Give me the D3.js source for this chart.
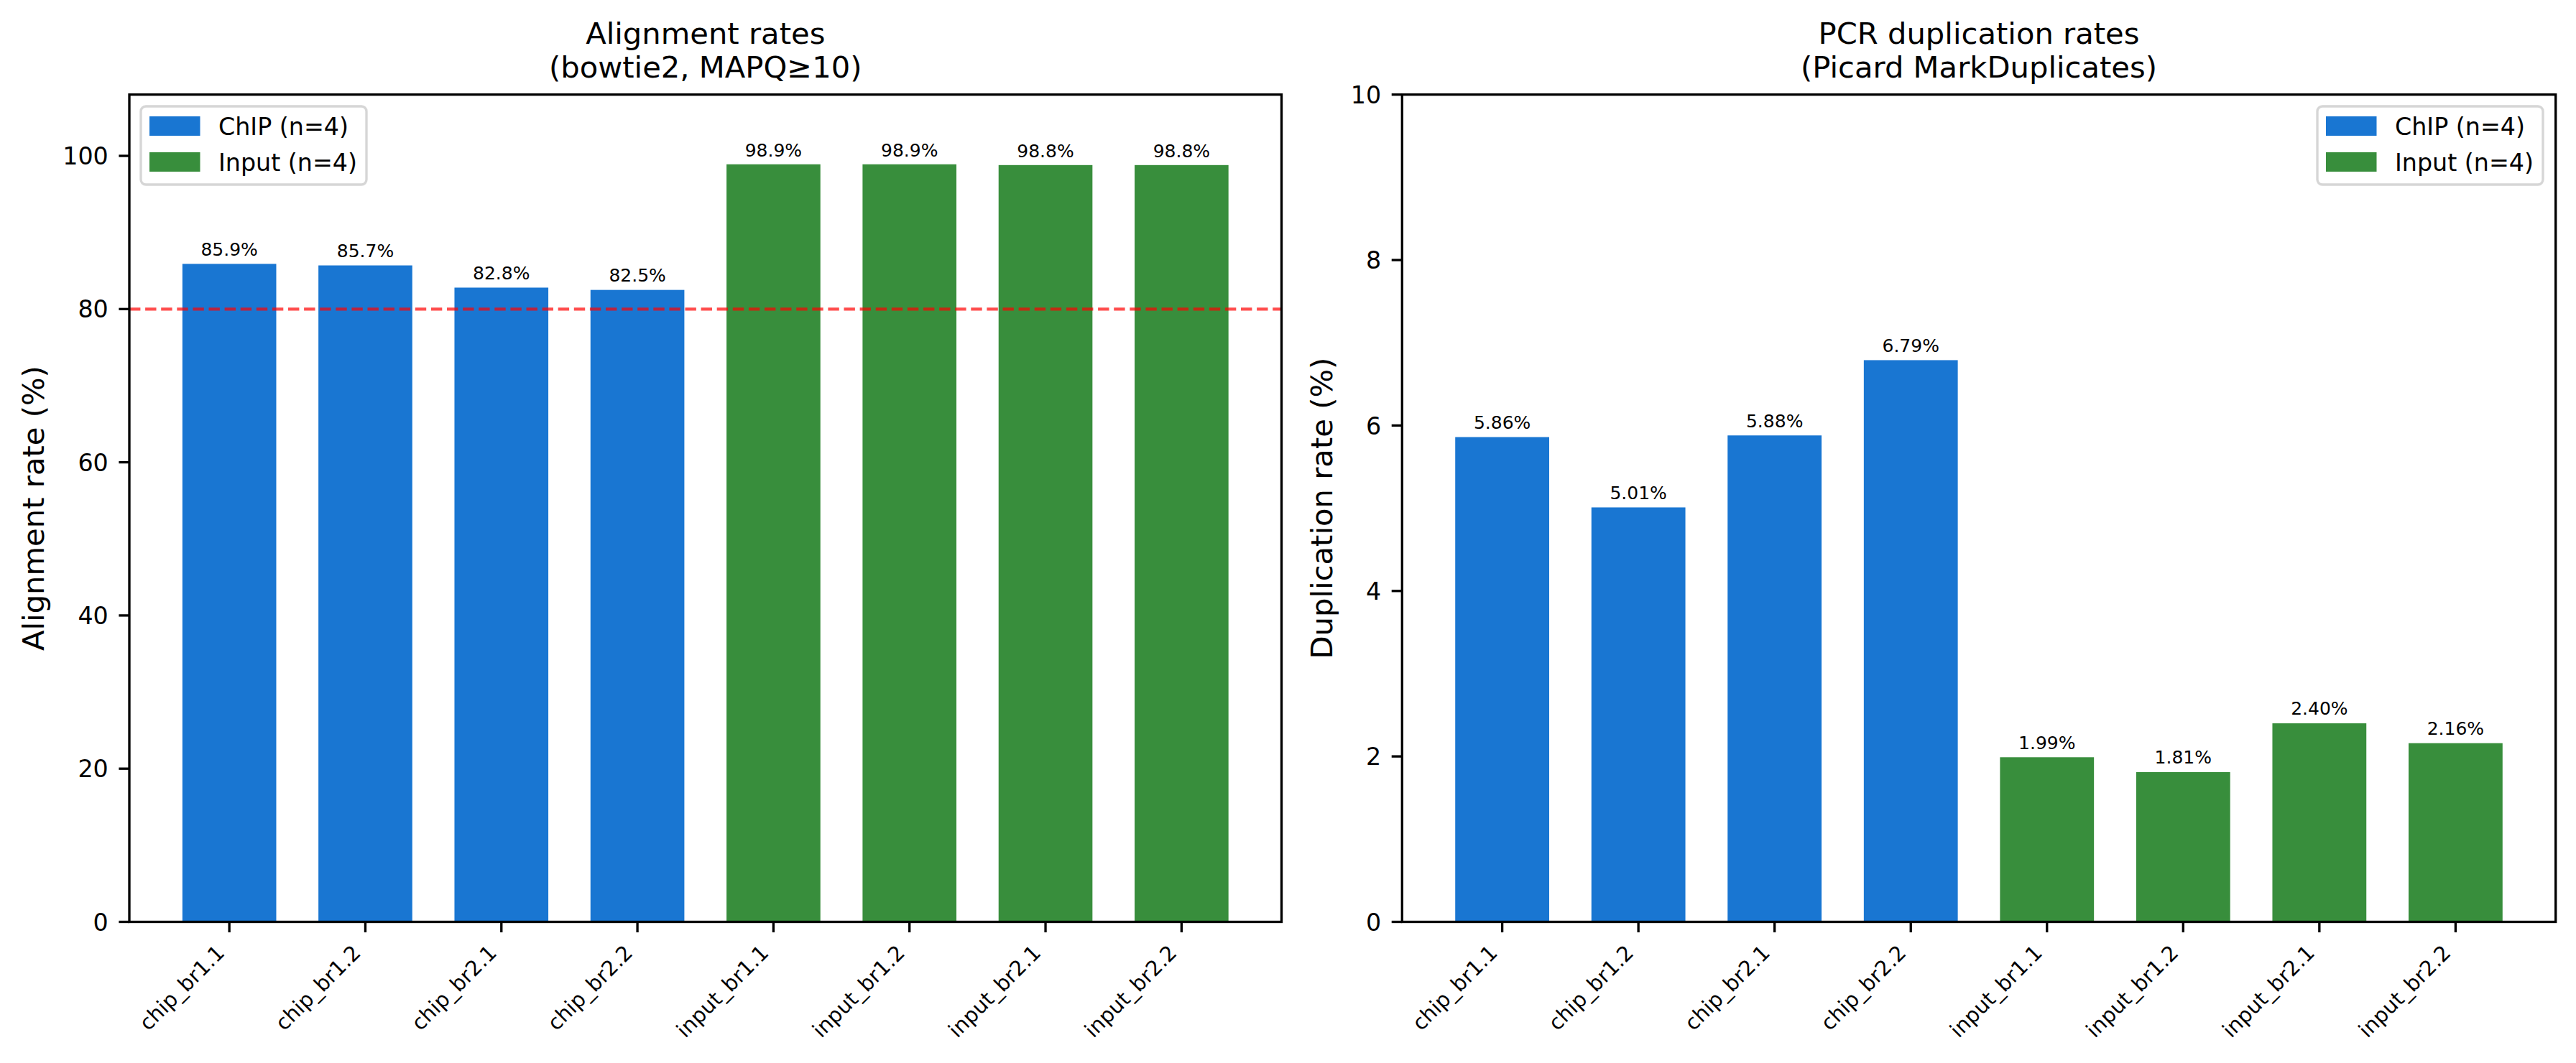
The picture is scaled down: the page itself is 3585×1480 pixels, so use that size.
<!DOCTYPE html>
<meta charset="utf-8">
<head>
    <title>Alignment and duplication rates</title>
    <script type="text/javascript" src="https://cdn.jsdelivr.net/npm/d3@7/dist/d3.min.js"></script>
    <style>
        body { margin: 0; background: #fff; }
        svg { display: block; font-family: "DejaVu Sans", sans-serif; }
    </style>
</head>

<body>
    <div id="chart"></div>

    <script type="text/javascript">

        // data
        var samples = ["chip_br1.1", "chip_br1.2", "chip_br2.1", "chip_br2.2",
                       "input_br1.1", "input_br1.2", "input_br2.1", "input_br2.2"];
        var sampleType = ["ChIP", "ChIP", "ChIP", "ChIP", "Input", "Input", "Input", "Input"];
        var alignRate = [85.9, 85.7, 82.8, 82.5, 98.9, 98.9, 98.8, 98.8];
        var dupRate = [5.86, 5.01, 5.88, 6.79, 1.99, 1.81, 2.40, 2.16];
        var legendLabels = ["ChIP (n=4)", "Input (n=4)"];
        var alignTicks = [0, 20, 40, 60, 80, 100];
        var dupTicks = [0, 2, 4, 6, 8, 10];
        var alignThreshold = 80;

        var w = 3585;
        var h = 1480;

        var colors = {"ChIP": "#1976D2", "Input": "#388E3C"};

        var svg = d3.select("#chart")
                    .append("svg")
                    .attr("width", w)
                    .attr("height", h);

        svg.append("rect").attr("width", w).attr("height", h).attr("fill", "#fff");

        // note: "top" is taken by window.top, so use other names
        var plotTop = 131.7, plotBottom = 1283.5;
        var lw = 3.33, tickLen = 14.6;

        function panel(opts) {
            var g = svg.append("g");

            var x = d3.scaleLinear()
                      .domain([-0.735, samples.length - 1 + 0.735])
                      .range([opts.left, opts.right]);
            var y = d3.scaleLinear()
                      .domain(opts.ydomain)
                      .range([plotBottom, plotTop]);

            var barW = x(0.69) - x(0);

            // bars
            g.selectAll("rect.bar")
             .data(opts.values)
             .enter()
             .append("rect")
             .attr("class", "bar")
             .attr("x", function(d, i) { return x(i) - barW / 2; })
             .attr("y", function(d) { return y(d); })
             .attr("width", barW)
             .attr("height", function(d) { return y(0) - y(d); })
             .attr("fill", function(d, i) { return colors[sampleType[i]]; });

            // value labels
            g.selectAll("text.val")
             .data(opts.values)
             .enter()
             .append("text")
             .attr("class", "val")
             .attr("x", function(d, i) { return x(i); })
             .attr("y", function(d) { return y(d + opts.labelOffset) - 5.9; })
             .attr("text-anchor", "middle")
             .attr("font-size", 25)
             .text(function(d) { return d.toFixed(opts.decimals) + "%"; });

            // threshold line
            if (opts.threshold !== undefined) {
                g.append("line")
                 .attr("x1", opts.left).attr("x2", opts.right)
                 .attr("y1", y(opts.threshold)).attr("y2", y(opts.threshold))
                 .attr("stroke", "red")
                 .attr("stroke-opacity", 0.7)
                 .attr("stroke-width", 4.17)
                 .attr("stroke-dasharray", "15.4 6.7");
            }

            // y axis ticks
            g.selectAll("line.ytick")
             .data(opts.yticks)
             .enter()
             .append("line")
             .attr("class", "ytick")
             .attr("x1", opts.left - tickLen).attr("x2", opts.left)
             .attr("y1", function(d) { return y(d); })
             .attr("y2", function(d) { return y(d); })
             .attr("stroke", "#000").attr("stroke-width", lw);

            g.selectAll("text.ytick")
             .data(opts.yticks)
             .enter()
             .append("text")
             .attr("class", "ytick")
             .attr("x", opts.left - tickLen - 14.6)
             .attr("y", function(d) { return y(d) + 12.1; })
             .attr("text-anchor", "end")
             .attr("font-size", 33.3)
             .text(function(d) { return d; });

            // x axis ticks
            g.selectAll("line.xtick")
             .data(samples)
             .enter()
             .append("line")
             .attr("class", "xtick")
             .attr("x1", function(d, i) { return x(i); })
             .attr("x2", function(d, i) { return x(i); })
             .attr("y1", plotBottom).attr("y2", plotBottom + tickLen)
             .attr("stroke", "#000").attr("stroke-width", lw);

            g.selectAll("text.xtick")
             .data(samples)
             .enter()
             .append("text")
             .attr("class", "xtick")
             .attr("text-anchor", "end")
             .attr("font-size", 29.2)
             .attr("transform", function(d, i) {
                 return "translate(" + (x(i) - 4.9) + "," + (plotBottom + tickLen + 14.6 + 15.7) + ") rotate(-45)";
             })
             .text(function(d) { return d; });

            // spines
            g.append("rect")
             .attr("x", opts.left).attr("y", plotTop)
             .attr("width", opts.right - opts.left)
             .attr("height", plotBottom - plotTop)
             .attr("fill", "none")
             .attr("stroke", "#000")
             .attr("stroke-width", lw);

            // y label
            g.append("text")
             .attr("transform", "translate(" + opts.ylabelX + "," + ((plotTop + plotBottom) / 2) + ") rotate(-90)")
             .attr("text-anchor", "middle")
             .attr("font-size", 41.7)
             .text(opts.ylabel);

            // title
            var cx = (opts.left + opts.right) / 2;
            g.selectAll("text.title")
             .data(opts.title)
             .enter()
             .append("text")
             .attr("class", "title")
             .attr("x", cx)
             .attr("y", function(d, i) { return 61 + i * 47.3; })
             .attr("text-anchor", "middle")
             .attr("font-size", 41.7)
             .text(function(d) { return d; });

            // legend
            var lg = g.append("g").attr("transform", "translate(" + opts.legendX + ",148)");
            lg.append("rect")
              .attr("width", 314).attr("height", 109)
              .attr("rx", 7).attr("ry", 7)
              .attr("fill", "#fff").attr("fill-opacity", 0.8)
              .attr("stroke", "#d6d6d6").attr("stroke-width", lw);

            var items = lg.selectAll("g.item")
                          .data(legendLabels)
                          .enter()
                          .append("g")
                          .attr("class", "item")
                          .attr("transform", function(d, i) { return "translate(0," + (i * 50) + ")"; });
            items.append("rect")
                 .attr("x", 12).attr("y", 14)
                 .attr("width", 70.5).attr("height", 27)
                 .attr("fill", function(d, i) { return colors[["ChIP", "Input"][i]]; });
            items.append("text")
                 .attr("x", 108).attr("y", 40)
                 .attr("font-size", 33.3)
                 .text(function(d) { return d; });
        }

        panel({
            left: 180, right: 1783.5,
            ydomain: [0, 108],
            values: alignRate,
            decimals: 1,
            labelOffset: 0.5,
            threshold: alignThreshold,
            yticks: alignTicks,
            ylabel: "Alignment rate (%)",
            ylabelX: 61,
            title: ["Alignment rates", "(bowtie2, MAPQ\u226510)"],
            legendX: 196
        });

        panel({
            left: 1951.3, right: 3556.7,
            ydomain: [0, 10],
            values: dupRate,
            decimals: 2,
            labelOffset: 0.05,
            yticks: dupTicks,
            ylabel: "Duplication rate (%)",
            ylabelX: 1853.5,
            title: ["PCR duplication rates", "(Picard MarkDuplicates)"],
            legendX: 3225
        });

    </script>

</body>

</html>
